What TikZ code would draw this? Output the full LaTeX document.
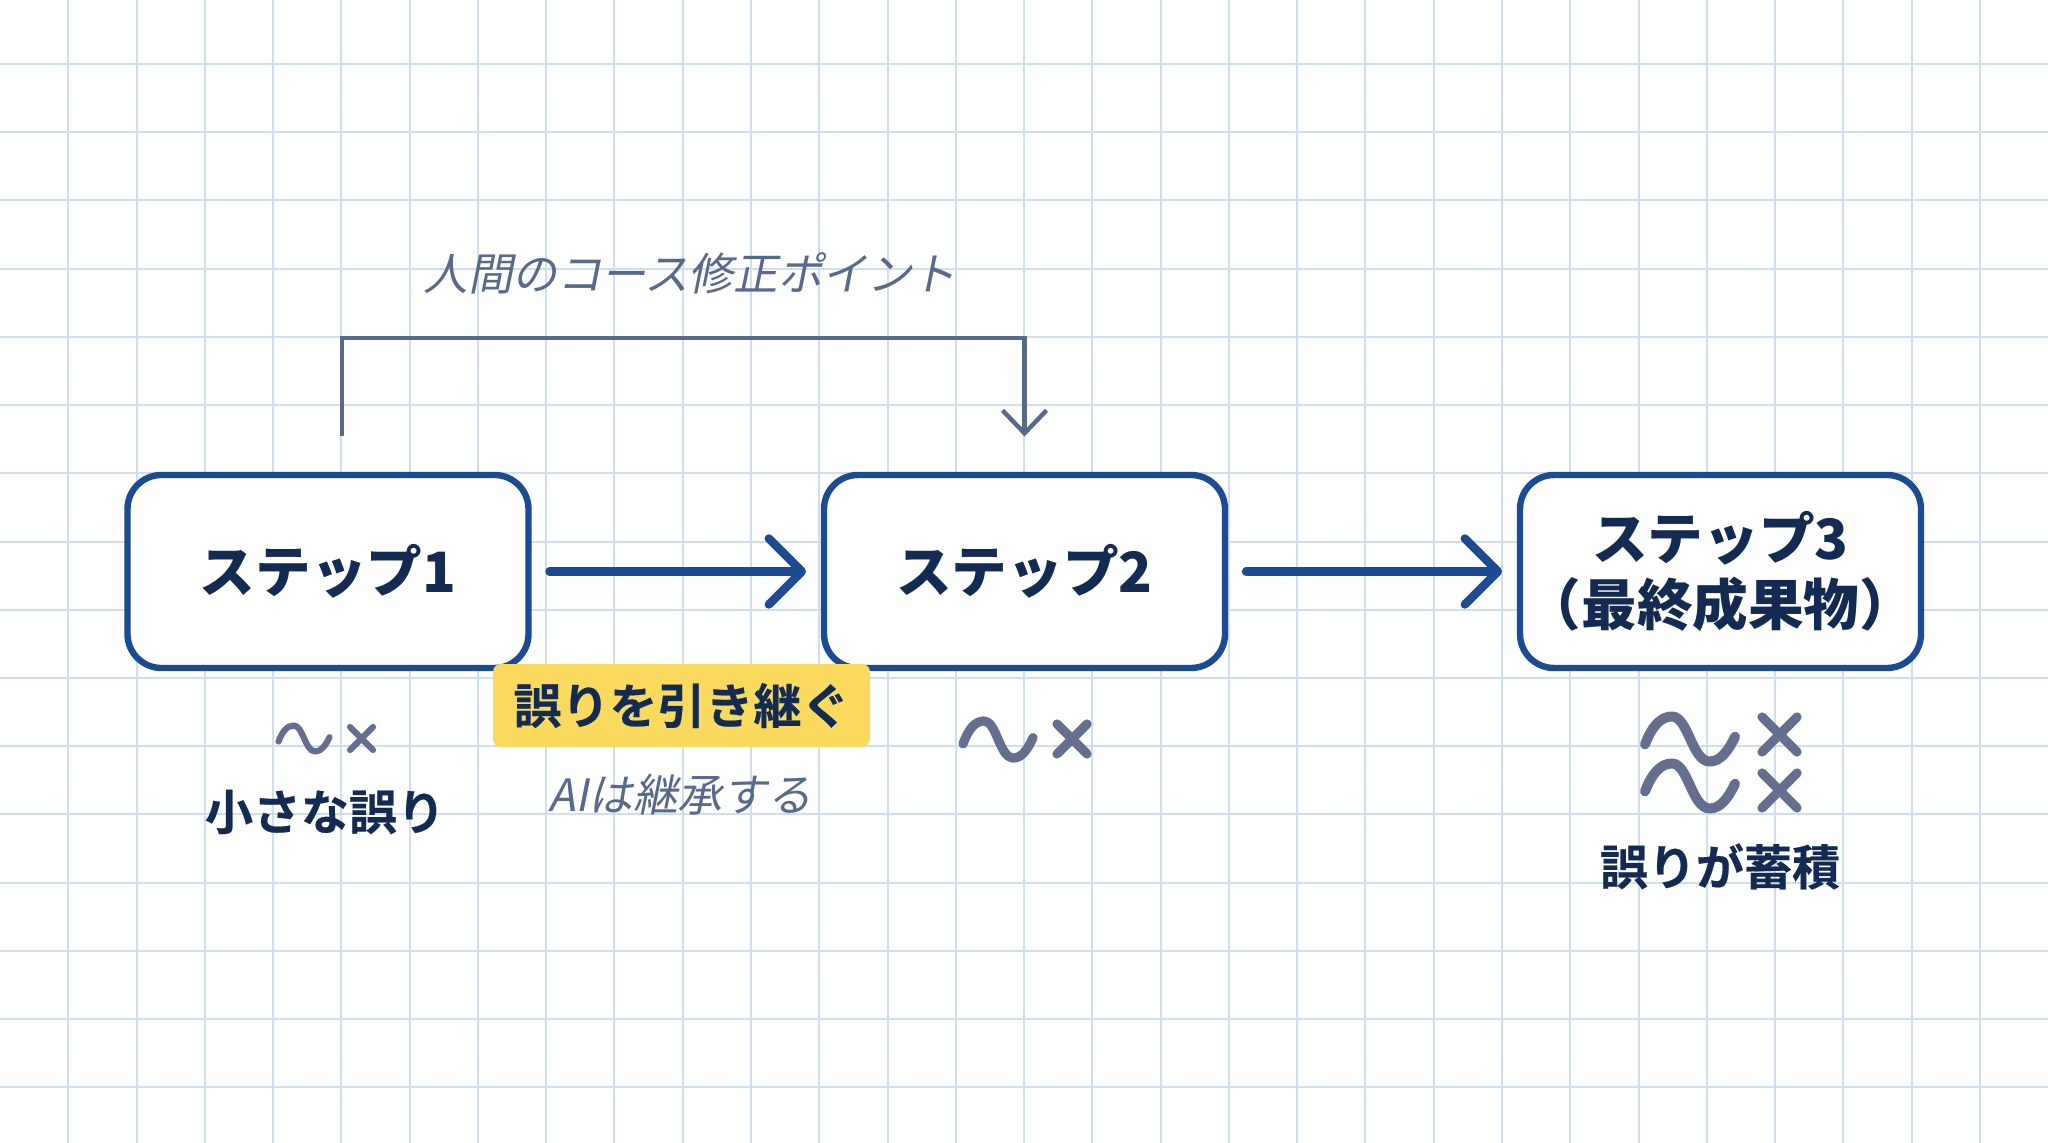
\documentclass[tikz,border=0pt]{standalone}
\usepackage{fontspec}
\usetikzlibrary{arrows.meta}
\setmainfont{Noto Sans CJK JP}
\newfontfamily\cjkbold[UprightFont={* Bold},FakeBold=0.4]{Noto Sans CJK JP}
\newfontfamily\cjkheavy[UprightFont={* Black}]{Noto Sans CJK JP}
\newfontfamily\cjkslant[FakeSlant=0.2]{Noto Sans CJK JP}
\definecolor{gridc}{HTML}{CEDFF3}
\definecolor{navy}{HTML}{132B52}
\definecolor{bluec}{HTML}{1D4B92}
\definecolor{slatec}{HTML}{586A8C}
\definecolor{markc}{HTML}{646F90}
\definecolor{yellowc}{HTML}{FADA5E}
\tikzset{
  gridline/.style={draw=gridc,line width=1pt},
  stepbox/.style={draw=bluec,fill=white,line width=3.2pt,rounded corners=17pt,minimum width=200.5pt,minimum height=96.5pt,inner sep=0pt,outer sep=0pt,align=center,text=navy,font=\cjkheavy\fontsize{27.8}{33.2}\selectfont},
  flow/.style={draw=bluec,line width=4.2pt,line cap=round,-{Straight Barb[length=16.5pt,width=33pt,round]}},
  course/.style={draw=slatec,line width=2.2pt,miter limit=10},
  coursetip/.style={-{Straight Barb[length=11.5pt,width=22pt]}},
  tag/.style={fill=yellowc,rounded corners=4pt,minimum width=188.5pt,minimum height=41.5pt,inner sep=0pt,text=navy,font=\cjkbold\fontsize{24}{28}\selectfont},
  boldlabel/.style={inner sep=0pt,text=navy,font=\cjkbold\fontsize{24}{28}\selectfont},
  slantlabel/.style={inner sep=0pt,text=slatec,font=\cjkslant\fontsize{22.3}{26}\selectfont},
  markline/.style={draw=markc,line cap=round,line join=round}
}
\newcommand{\wavemark}[5]{% x y w h lw (inner extent of the centre line)
  \draw[markline,line width=#5pt,shift={(#1,#2)},x=#3*0.5pt,y=-#4*0.5pt]
    (0,0.62) .. controls (0.08,0.2) and (0.18,0) .. (0.30,0)
    .. controls (0.48,0) and (0.52,1) .. (0.72,1)
    .. controls (0.84,1) and (0.93,0.75) .. (1,0.45);}
\newcommand{\crossmark}[5]{%
  \draw[markline,line width=#5pt] (#1,#2) -- (#3,#4) (#1,#4) -- (#3,#2);}
\begin{document}
\begin{tikzpicture}[x=0.5pt,y=-0.5pt]
\useasboundingbox (0,0) rectangle (2048,1143);
\fill[fill=white!99!gridc] (0,0) rectangle (2048,1143);
\foreach \k in {1,...,29} \draw[gridline] ({68.27*\k},0) -- ({68.27*\k},1143);
\foreach \k in {0,...,15} \draw[gridline] (0,{64+68.22*\k}) -- (2048,{64+68.22*\k});

\node[stepbox] (s1) at (328,571.5) {\raisebox{-1pt}{ステップ1}};
\node[stepbox] (s2) at (1024.5,571.5) {\raisebox{-1pt}{ステップ2}};
\node[stepbox] (s3) at (1720.5,571.5) {\raisebox{-1pt}{ステップ3}\\\raisebox{-1pt}{（最終成果物）}};

\draw[flow,shorten <=10.5pt,shorten >=9pt] (s1.east) -- (s2.west);
\draw[flow,shorten <=10.5pt,shorten >=9pt] (s2.east) -- (s3.west);

\coordinate (c1) at (342,436.5);
\coordinate (c2) at (342,338);
\coordinate (c3) at (s2.north |- c2);
\coordinate (c4) at (s2.north |- c1);
\draw[course,coursetip] (c1) -- (c2) -- (c3) -- (c4);
\node[slantlabel] (ct) at (690,273) {人間のコース修正ポイント};

\node[tag] (tg) at (681.5,705.5) {\raisebox{-0.5pt}{誤りを引き継ぐ}};
\node[slantlabel] (ai) at (680,795) {AIは継承する};
\node[boldlabel] (l1) at (325,812) {小さな誤り};
\node[boldlabel] (l3) at (1720,866.5) {誤りが蓄積};

\wavemark{278.5}{725.5}{51}{26}{3.1}
\crossmark{350}{727}{373}{750}{3.1}
\wavemark{963}{721}{70}{37}{4.6}
\crossmark{1057}{724}{1087}{754}{4.6}
\wavemark{1645}{716.5}{90}{45}{5}
\wavemark{1645}{763.5}{90}{45}{5}
\crossmark{1762}{717}{1797}{752}{4.6}
\crossmark{1762}{773}{1797}{808}{4.6}
\end{tikzpicture}
\end{document}
